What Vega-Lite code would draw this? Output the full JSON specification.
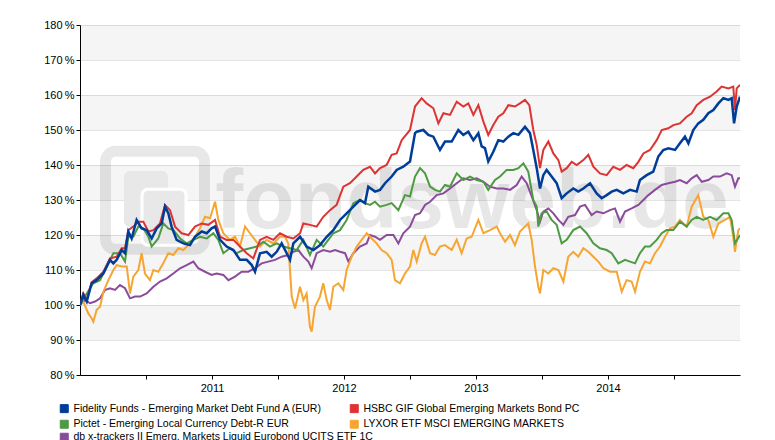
{
"$schema":"https://vega.github.io/schema/vega-lite/v6.json",
"width":660,"height":350,
"autosize":{"type":"none"},
"padding":{"left":80,"top":25,"right":35,"bottom":65},
"background":"white",
"config":{"view":{"stroke":null},"font":"Liberation Sans","axis":{"labelFont":"Liberation Sans","labelFontSize":11,"labelColor":"#000","domainColor":"#000","tickColor":"#000","tickSize":4,"title":null},"axisY":{"values":[80,90,100,110,120,130,140,150,160,170,180],"labelExpr":"datum.value + '\u2009%'","grid":true,"gridColor":"#e3e3e3","labelPadding":2,"labelOverlap":false},"legend":{"labelFont":"Liberation Sans"}},
"datasets":{
"names":[
{"k":"F","fund":"Fidelity Funds - Emerging Market Debt Fund A (EUR)"},
{"k":"H","fund":"HSBC GIF Global Emerging Markets Bond PC"},
{"k":"P","fund":"Pictet - Emerging Local Currency Debt-R EUR"},
{"k":"L","fund":"LYXOR ETF MSCI EMERGING MARKETS"},
{"k":"D","fund":"db x-trackers II Emerg. Markets Liquid Eurobond UCITS ETF 1C"}],
"bands":[{"lo":170,"hi":180},{"lo":150,"hi":160},{"lo":130,"hi":140},{"lo":110,"hi":120},{"lo":90,"hi":100}],
"series":[
{"k":"D","t":2010,"v":100},{"k":"D","t":2010.038,"v":101.4},{"k":"D","t":2010.076,"v":100.5},{"k":"D","t":2010.114,"v":101},{"k":"D","t":2010.152,"v":101.9},{"k":"D","t":2010.189,"v":104.3},{"k":"D","t":2010.227,"v":104.8},{"k":"D","t":2010.265,"v":104.3},{"k":"D","t":2010.303,"v":105.7},{"k":"D","t":2010.341,"v":104.8},{"k":"D","t":2010.379,"v":101.9},{"k":"D","t":2010.417,"v":102.4},{"k":"D","t":2010.455,"v":102.4},{"k":"D","t":2010.505,"v":103.3},{"k":"D","t":2010.556,"v":105.2},{"k":"D","t":2010.606,"v":106.7},{"k":"D","t":2010.657,"v":107.6},{"k":"D","t":2010.707,"v":109},{"k":"D","t":2010.758,"v":110.5},{"k":"D","t":2010.808,"v":111.4},{"k":"D","t":2010.859,"v":112.4},{"k":"D","t":2010.896,"v":110.5},{"k":"D","t":2010.947,"v":109.5},{"k":"D","t":2010.997,"v":108.6},{"k":"D","t":2011.035,"v":109},{"k":"D","t":2011.086,"v":108.6},{"k":"D","t":2011.124,"v":107.1},{"k":"D","t":2011.174,"v":108.1},{"k":"D","t":2011.225,"v":109.5},{"k":"D","t":2011.275,"v":109.5},{"k":"D","t":2011.326,"v":110.5},{"k":"D","t":2011.376,"v":111.9},{"k":"D","t":2011.427,"v":112.4},{"k":"D","t":2011.477,"v":112.9},{"k":"D","t":2011.528,"v":113.8},{"k":"D","t":2011.578,"v":114.3},{"k":"D","t":2011.616,"v":115.2},{"k":"D","t":2011.654,"v":115.7},{"k":"D","t":2011.692,"v":113.8},{"k":"D","t":2011.73,"v":112.4},{"k":"D","t":2011.755,"v":110.5},{"k":"D","t":2011.793,"v":114.8},{"k":"D","t":2011.843,"v":115.7},{"k":"D","t":2011.894,"v":115.2},{"k":"D","t":2011.932,"v":115.7},{"k":"D","t":2011.97,"v":115.2},{"k":"D","t":2012.008,"v":114.8},{"k":"D","t":2012.033,"v":112.4},{"k":"D","t":2012.071,"v":114.8},{"k":"D","t":2012.121,"v":116.7},{"k":"D","t":2012.172,"v":117.6},{"k":"D","t":2012.197,"v":120},{"k":"D","t":2012.235,"v":119.5},{"k":"D","t":2012.273,"v":118.6},{"k":"D","t":2012.323,"v":120},{"k":"D","t":2012.374,"v":120},{"k":"D","t":2012.412,"v":117.6},{"k":"D","t":2012.449,"v":120.5},{"k":"D","t":2012.5,"v":122.4},
{"k":"D","t":2012.538,"v":125.7},{"k":"D","t":2012.576,"v":126.2},{"k":"D","t":2012.614,"v":128.6},{"k":"D","t":2012.652,"v":129.5},{"k":"D","t":2012.702,"v":131.4},{"k":"D","t":2012.753,"v":131.9},{"k":"D","t":2012.803,"v":133.3},{"k":"D","t":2012.854,"v":134.8},{"k":"D","t":2012.904,"v":136.2},{"k":"D","t":2012.955,"v":135.7},{"k":"D","t":2013.005,"v":136.2},{"k":"D","t":2013.056,"v":135.2},{"k":"D","t":2013.106,"v":133.8},{"k":"D","t":2013.157,"v":133.3},{"k":"D","t":2013.207,"v":133.3},{"k":"D","t":2013.258,"v":132.9},{"k":"D","t":2013.308,"v":134.3},{"k":"D","t":2013.346,"v":136.7},{"k":"D","t":2013.384,"v":134.8},{"k":"D","t":2013.422,"v":131},{"k":"D","t":2013.46,"v":127.1},{"k":"D","t":2013.485,"v":123.8},{"k":"D","t":2013.51,"v":126.7},{"k":"D","t":2013.548,"v":127.6},{"k":"D","t":2013.586,"v":126.2},{"k":"D","t":2013.624,"v":124.3},{"k":"D","t":2013.662,"v":122.9},{"k":"D","t":2013.699,"v":125.2},{"k":"D","t":2013.75,"v":125.7},{"k":"D","t":2013.788,"v":128.1},{"k":"D","t":2013.826,"v":128.6},{"k":"D","t":2013.876,"v":125.7},{"k":"D","t":2013.914,"v":126.7},{"k":"D","t":2013.965,"v":126.2},{"k":"D","t":2014.015,"v":127.1},{"k":"D","t":2014.053,"v":127.6},{"k":"D","t":2014.091,"v":123.8},{"k":"D","t":2014.129,"v":126.7},{"k":"D","t":2014.179,"v":127.6},{"k":"D","t":2014.23,"v":128.6},{"k":"D","t":2014.268,"v":130},{"k":"D","t":2014.306,"v":131.4},{"k":"D","t":2014.356,"v":132.9},{"k":"D","t":2014.407,"v":134.3},{"k":"D","t":2014.457,"v":134.8},{"k":"D","t":2014.508,"v":135.2},{"k":"D","t":2014.545,"v":135.7},{"k":"D","t":2014.596,"v":134.8},{"k":"D","t":2014.634,"v":136.2},{"k":"D","t":2014.672,"v":137.1},{"k":"D","t":2014.71,"v":135.2},{"k":"D","t":2014.76,"v":135.7},{"k":"D","t":2014.798,"v":136.7},{"k":"D","t":2014.848,"v":136.7},{"k":"D","t":2014.899,"v":137.6},{"k":"D","t":2014.937,"v":137.1},{"k":"D","t":2014.962,"v":133.8},{"k":"D","t":2014.987,"v":136.2},{"k":"D","t":2015,"v":136.2},
{"k":"L","t":2010,"v":100},{"k":"L","t":2010.025,"v":101},{"k":"L","t":2010.063,"v":97.6},{"k":"L","t":2010.088,"v":96.2},{"k":"L","t":2010.101,"v":95.2},{"k":"L","t":2010.126,"v":98.6},{"k":"L","t":2010.152,"v":99.5},{"k":"L","t":2010.177,"v":103.8},{"k":"L","t":2010.215,"v":107.1},{"k":"L","t":2010.253,"v":110},{"k":"L","t":2010.278,"v":111.4},{"k":"L","t":2010.316,"v":111},{"k":"L","t":2010.354,"v":111},{"k":"L","t":2010.379,"v":103.3},{"k":"L","t":2010.404,"v":108.1},{"k":"L","t":2010.442,"v":110},{"k":"L","t":2010.467,"v":114.8},{"k":"L","t":2010.492,"v":109},{"k":"L","t":2010.53,"v":107.1},{"k":"L","t":2010.556,"v":110},{"k":"L","t":2010.593,"v":109.5},{"k":"L","t":2010.631,"v":111.9},{"k":"L","t":2010.669,"v":114.8},{"k":"L","t":2010.707,"v":114.3},{"k":"L","t":2010.745,"v":116.2},{"k":"L","t":2010.783,"v":115.7},{"k":"L","t":2010.821,"v":117.1},{"k":"L","t":2010.871,"v":119.5},{"k":"L","t":2010.909,"v":121.9},{"k":"L","t":2010.947,"v":125.2},{"k":"L","t":2010.985,"v":124.8},{"k":"L","t":2011.023,"v":129.5},{"k":"L","t":2011.048,"v":124.3},{"k":"L","t":2011.086,"v":120.5},{"k":"L","t":2011.136,"v":118.6},{"k":"L","t":2011.174,"v":119.5},{"k":"L","t":2011.212,"v":116.7},{"k":"L","t":2011.25,"v":122.4},{"k":"L","t":2011.288,"v":120.5},{"k":"L","t":2011.326,"v":118.6},{"k":"L","t":2011.364,"v":116.7},{"k":"L","t":2011.414,"v":118.6},{"k":"L","t":2011.465,"v":117.6},{"k":"L","t":2011.515,"v":119.5},{"k":"L","t":2011.553,"v":119.5},{"k":"L","t":2011.578,"v":117.6},{"k":"L","t":2011.604,"v":102.4},{"k":"L","t":2011.629,"v":99},{"k":"L","t":2011.667,"v":105.2},{"k":"L","t":2011.692,"v":101.4},{"k":"L","t":2011.717,"v":103.3},{"k":"L","t":2011.742,"v":93.8},{"k":"L","t":2011.755,"v":92.4},{"k":"L","t":2011.78,"v":99.5},{"k":"L","t":2011.818,"v":102.4},{"k":"L","t":2011.843,"v":106.2},{"k":"L","t":2011.869,"v":101.4},{"k":"L","t":2011.894,"v":98.6},{"k":"L","t":2011.919,"v":105.2},{"k":"L","t":2011.957,"v":106.2},{"k":"L","t":2011.995,"v":104.3},{"k":"L","t":2012.02,"v":110},{"k":"L","t":2012.058,"v":113.8},{"k":"L","t":2012.096,"v":116.7},{"k":"L","t":2012.134,"v":118.6},{"k":"L","t":2012.172,"v":120.5},{"k":"L","t":2012.21,"v":119},{"k":"L","t":2012.247,"v":117.6},{"k":"L","t":2012.285,"v":115.7},{"k":"L","t":2012.323,"v":114.8},{"k":"L","t":2012.361,"v":112.9},{"k":"L","t":2012.386,"v":107.1},{"k":"L","t":2012.424,"v":106.2},{"k":"L","t":2012.462,"v":109},{"k":"L","t":2012.5,"v":111},
{"k":"L","t":2012.525,"v":115.7},{"k":"L","t":2012.551,"v":112.4},{"k":"L","t":2012.588,"v":117.6},{"k":"L","t":2012.614,"v":119.5},{"k":"L","t":2012.652,"v":114.8},{"k":"L","t":2012.689,"v":114.3},{"k":"L","t":2012.727,"v":116.7},{"k":"L","t":2012.765,"v":117.1},{"k":"L","t":2012.816,"v":115.7},{"k":"L","t":2012.854,"v":118.6},{"k":"L","t":2012.891,"v":114.8},{"k":"L","t":2012.929,"v":119},{"k":"L","t":2012.967,"v":119.5},{"k":"L","t":2013.018,"v":124.3},{"k":"L","t":2013.056,"v":120.5},{"k":"L","t":2013.106,"v":121.4},{"k":"L","t":2013.157,"v":122.4},{"k":"L","t":2013.182,"v":120.5},{"k":"L","t":2013.22,"v":118.1},{"k":"L","t":2013.258,"v":120},{"k":"L","t":2013.295,"v":117.1},{"k":"L","t":2013.333,"v":121},{"k":"L","t":2013.371,"v":122.4},{"k":"L","t":2013.396,"v":123.3},{"k":"L","t":2013.422,"v":118.6},{"k":"L","t":2013.447,"v":111},{"k":"L","t":2013.472,"v":105.2},{"k":"L","t":2013.485,"v":103.3},{"k":"L","t":2013.51,"v":110},{"k":"L","t":2013.548,"v":109},{"k":"L","t":2013.586,"v":110.5},{"k":"L","t":2013.624,"v":110},{"k":"L","t":2013.662,"v":106.7},{"k":"L","t":2013.699,"v":113.8},{"k":"L","t":2013.737,"v":115.2},{"k":"L","t":2013.775,"v":113.8},{"k":"L","t":2013.813,"v":116.2},{"k":"L","t":2013.851,"v":115.2},{"k":"L","t":2013.889,"v":113.8},{"k":"L","t":2013.927,"v":112.4},{"k":"L","t":2013.965,"v":110.5},{"k":"L","t":2014.015,"v":109.5},{"k":"L","t":2014.066,"v":109.5},{"k":"L","t":2014.104,"v":103.8},{"k":"L","t":2014.141,"v":107.1},{"k":"L","t":2014.179,"v":106.7},{"k":"L","t":2014.205,"v":103.8},{"k":"L","t":2014.242,"v":109.5},{"k":"L","t":2014.28,"v":112.4},{"k":"L","t":2014.318,"v":111.9},{"k":"L","t":2014.356,"v":114.8},{"k":"L","t":2014.394,"v":116.7},{"k":"L","t":2014.432,"v":119.5},{"k":"L","t":2014.47,"v":121.9},{"k":"L","t":2014.508,"v":122.4},{"k":"L","t":2014.545,"v":124.3},{"k":"L","t":2014.596,"v":122.4},{"k":"L","t":2014.634,"v":128.1},{"k":"L","t":2014.684,"v":131.4},{"k":"L","t":2014.722,"v":125.2},{"k":"L","t":2014.76,"v":124.3},{"k":"L","t":2014.798,"v":119.5},{"k":"L","t":2014.836,"v":123.3},{"k":"L","t":2014.886,"v":124.3},{"k":"L","t":2014.924,"v":125.2},{"k":"L","t":2014.949,"v":119.5},{"k":"L","t":2014.962,"v":115.2},{"k":"L","t":2014.987,"v":121.4},{"k":"L","t":2015,"v":121.9},
{"k":"P","t":2010,"v":100},{"k":"P","t":2010.051,"v":103.3},{"k":"P","t":2010.101,"v":106.2},{"k":"P","t":2010.152,"v":107.1},{"k":"P","t":2010.202,"v":111},{"k":"P","t":2010.253,"v":114.8},{"k":"P","t":2010.303,"v":114.8},{"k":"P","t":2010.341,"v":112.4},{"k":"P","t":2010.366,"v":119.5},{"k":"P","t":2010.404,"v":119.5},{"k":"P","t":2010.442,"v":122.4},{"k":"P","t":2010.48,"v":121.9},{"k":"P","t":2010.518,"v":119.5},{"k":"P","t":2010.543,"v":116.7},{"k":"P","t":2010.593,"v":119},{"k":"P","t":2010.631,"v":123.3},{"k":"P","t":2010.669,"v":121.9},{"k":"P","t":2010.707,"v":121.4},{"k":"P","t":2010.758,"v":119},{"k":"P","t":2010.808,"v":117.6},{"k":"P","t":2010.859,"v":118.6},{"k":"P","t":2010.909,"v":119.5},{"k":"P","t":2010.96,"v":119},{"k":"P","t":2011.01,"v":120.5},{"k":"P","t":2011.048,"v":118.6},{"k":"P","t":2011.086,"v":114.8},{"k":"P","t":2011.136,"v":116.2},{"k":"P","t":2011.187,"v":114.8},{"k":"P","t":2011.237,"v":115.7},{"k":"P","t":2011.288,"v":116.2},{"k":"P","t":2011.338,"v":116.7},{"k":"P","t":2011.389,"v":118.1},{"k":"P","t":2011.439,"v":116.7},{"k":"P","t":2011.49,"v":117.6},{"k":"P","t":2011.54,"v":116.7},{"k":"P","t":2011.591,"v":116.2},{"k":"P","t":2011.641,"v":115.7},{"k":"P","t":2011.692,"v":118.6},{"k":"P","t":2011.742,"v":114.3},{"k":"P","t":2011.793,"v":118.6},{"k":"P","t":2011.843,"v":116.7},{"k":"P","t":2011.881,"v":118.6},{"k":"P","t":2011.919,"v":120.5},{"k":"P","t":2011.97,"v":121.4},{"k":"P","t":2012.02,"v":124.3},{"k":"P","t":2012.071,"v":129.1},{"k":"P","t":2012.121,"v":130},{"k":"P","t":2012.159,"v":129.1},{"k":"P","t":2012.197,"v":128.6},{"k":"P","t":2012.235,"v":129.5},{"k":"P","t":2012.273,"v":128.1},{"k":"P","t":2012.323,"v":128.6},{"k":"P","t":2012.361,"v":129.1},{"k":"P","t":2012.412,"v":127.1},{"k":"P","t":2012.462,"v":131.4},{"k":"P","t":2012.5,"v":131},
{"k":"P","t":2012.538,"v":136.7},{"k":"P","t":2012.576,"v":139.1},{"k":"P","t":2012.614,"v":137.6},{"k":"P","t":2012.652,"v":133.8},{"k":"P","t":2012.689,"v":132.9},{"k":"P","t":2012.727,"v":132.4},{"k":"P","t":2012.765,"v":134.3},{"k":"P","t":2012.803,"v":133.8},{"k":"P","t":2012.854,"v":137.6},{"k":"P","t":2012.904,"v":135.7},{"k":"P","t":2012.955,"v":136.7},{"k":"P","t":2013.005,"v":135.7},{"k":"P","t":2013.056,"v":135.2},{"k":"P","t":2013.093,"v":132.9},{"k":"P","t":2013.144,"v":135.7},{"k":"P","t":2013.182,"v":136.7},{"k":"P","t":2013.232,"v":138.6},{"k":"P","t":2013.283,"v":138.6},{"k":"P","t":2013.321,"v":139.1},{"k":"P","t":2013.359,"v":140.5},{"k":"P","t":2013.396,"v":138.1},{"k":"P","t":2013.434,"v":130},{"k":"P","t":2013.46,"v":128.1},{"k":"P","t":2013.472,"v":122.4},{"k":"P","t":2013.497,"v":126.2},{"k":"P","t":2013.535,"v":126.7},{"k":"P","t":2013.573,"v":124.3},{"k":"P","t":2013.611,"v":122.9},{"k":"P","t":2013.649,"v":117.6},{"k":"P","t":2013.687,"v":118.6},{"k":"P","t":2013.737,"v":121.4},{"k":"P","t":2013.788,"v":122.4},{"k":"P","t":2013.838,"v":120.5},{"k":"P","t":2013.889,"v":117.6},{"k":"P","t":2013.939,"v":116.2},{"k":"P","t":2013.99,"v":115.7},{"k":"P","t":2014.028,"v":114.8},{"k":"P","t":2014.078,"v":111.9},{"k":"P","t":2014.129,"v":112.9},{"k":"P","t":2014.167,"v":112.4},{"k":"P","t":2014.205,"v":111.9},{"k":"P","t":2014.242,"v":114.8},{"k":"P","t":2014.28,"v":116.7},{"k":"P","t":2014.318,"v":116.7},{"k":"P","t":2014.369,"v":118.6},{"k":"P","t":2014.407,"v":120.5},{"k":"P","t":2014.444,"v":121.4},{"k":"P","t":2014.495,"v":121.4},{"k":"P","t":2014.545,"v":123.8},{"k":"P","t":2014.596,"v":122.4},{"k":"P","t":2014.634,"v":124.3},{"k":"P","t":2014.672,"v":125.2},{"k":"P","t":2014.722,"v":124.3},{"k":"P","t":2014.773,"v":125.2},{"k":"P","t":2014.823,"v":124.3},{"k":"P","t":2014.874,"v":126.2},{"k":"P","t":2014.912,"v":126.2},{"k":"P","t":2014.937,"v":124.3},{"k":"P","t":2014.962,"v":117.6},{"k":"P","t":2015,"v":120},
{"k":"H","t":2010,"v":100},{"k":"H","t":2010.025,"v":103.3},{"k":"H","t":2010.051,"v":101.5},{"k":"H","t":2010.088,"v":106.5},{"k":"H","t":2010.126,"v":107.6},{"k":"H","t":2010.177,"v":109.5},{"k":"H","t":2010.227,"v":113.3},{"k":"H","t":2010.278,"v":113.8},{"k":"H","t":2010.316,"v":116.2},{"k":"H","t":2010.341,"v":116.2},{"k":"H","t":2010.366,"v":121.4},{"k":"H","t":2010.404,"v":122.4},{"k":"H","t":2010.442,"v":123.8},{"k":"H","t":2010.48,"v":123.8},{"k":"H","t":2010.518,"v":121},{"k":"H","t":2010.556,"v":121.4},{"k":"H","t":2010.606,"v":123.3},{"k":"H","t":2010.644,"v":128.6},{"k":"H","t":2010.682,"v":127.1},{"k":"H","t":2010.72,"v":122.4},{"k":"H","t":2010.77,"v":120.5},{"k":"H","t":2010.821,"v":120},{"k":"H","t":2010.871,"v":122.4},{"k":"H","t":2010.922,"v":123.3},{"k":"H","t":2010.972,"v":122.9},{"k":"H","t":2011.023,"v":124.3},{"k":"H","t":2011.061,"v":119.5},{"k":"H","t":2011.111,"v":118.6},{"k":"H","t":2011.162,"v":118.6},{"k":"H","t":2011.212,"v":116.7},{"k":"H","t":2011.263,"v":114.8},{"k":"H","t":2011.313,"v":113.3},{"k":"H","t":2011.364,"v":118.6},{"k":"H","t":2011.414,"v":119.5},{"k":"H","t":2011.465,"v":118.6},{"k":"H","t":2011.515,"v":120.5},{"k":"H","t":2011.566,"v":119.5},{"k":"H","t":2011.616,"v":119},{"k":"H","t":2011.667,"v":120.5},{"k":"H","t":2011.692,"v":123.3},{"k":"H","t":2011.742,"v":122.9},{"k":"H","t":2011.793,"v":122.4},{"k":"H","t":2011.843,"v":125.2},{"k":"H","t":2011.894,"v":127.1},{"k":"H","t":2011.944,"v":128.6},{"k":"H","t":2011.995,"v":133.8},{"k":"H","t":2012.045,"v":134.8},{"k":"H","t":2012.096,"v":136.7},{"k":"H","t":2012.146,"v":138.6},{"k":"H","t":2012.197,"v":139.5},{"k":"H","t":2012.235,"v":137.6},{"k":"H","t":2012.273,"v":139.1},{"k":"H","t":2012.323,"v":140},{"k":"H","t":2012.361,"v":142.9},{"k":"H","t":2012.399,"v":143.3},{"k":"H","t":2012.437,"v":147.1},{"k":"H","t":2012.5,"v":150},
{"k":"H","t":2012.538,"v":156.7},{"k":"H","t":2012.588,"v":159.1},{"k":"H","t":2012.626,"v":157.6},{"k":"H","t":2012.677,"v":156.2},{"k":"H","t":2012.715,"v":151.9},{"k":"H","t":2012.753,"v":154.8},{"k":"H","t":2012.803,"v":154.3},{"k":"H","t":2012.854,"v":158.1},{"k":"H","t":2012.904,"v":156.7},{"k":"H","t":2012.942,"v":157.6},{"k":"H","t":2012.98,"v":154.3},{"k":"H","t":2013.018,"v":157.1},{"k":"H","t":2013.056,"v":152.4},{"k":"H","t":2013.093,"v":148.6},{"k":"H","t":2013.131,"v":151.4},{"k":"H","t":2013.169,"v":153.8},{"k":"H","t":2013.207,"v":154.8},{"k":"H","t":2013.245,"v":157.1},{"k":"H","t":2013.295,"v":156.7},{"k":"H","t":2013.333,"v":157.6},{"k":"H","t":2013.371,"v":158.6},{"k":"H","t":2013.404,"v":157.1},{"k":"H","t":2013.434,"v":150},{"k":"H","t":2013.46,"v":145.7},{"k":"H","t":2013.485,"v":139.1},{"k":"H","t":2013.51,"v":144.3},{"k":"H","t":2013.548,"v":146.7},{"k":"H","t":2013.586,"v":143.3},{"k":"H","t":2013.624,"v":141.4},{"k":"H","t":2013.649,"v":138.1},{"k":"H","t":2013.687,"v":139.1},{"k":"H","t":2013.725,"v":140.9},{"k":"H","t":2013.763,"v":140},{"k":"H","t":2013.813,"v":141.4},{"k":"H","t":2013.851,"v":142.9},{"k":"H","t":2013.889,"v":139.5},{"k":"H","t":2013.939,"v":137.6},{"k":"H","t":2013.99,"v":137.1},{"k":"H","t":2014.04,"v":139.5},{"k":"H","t":2014.091,"v":138.6},{"k":"H","t":2014.141,"v":140},{"k":"H","t":2014.192,"v":139.1},{"k":"H","t":2014.23,"v":140.9},{"k":"H","t":2014.268,"v":143.3},{"k":"H","t":2014.318,"v":144.3},{"k":"H","t":2014.369,"v":147.1},{"k":"H","t":2014.407,"v":150},{"k":"H","t":2014.457,"v":150.5},{"k":"H","t":2014.495,"v":151.4},{"k":"H","t":2014.545,"v":151.9},{"k":"H","t":2014.596,"v":153.8},{"k":"H","t":2014.634,"v":154.8},{"k":"H","t":2014.672,"v":157.1},{"k":"H","t":2014.722,"v":158.6},{"k":"H","t":2014.773,"v":159.5},{"k":"H","t":2014.823,"v":161},{"k":"H","t":2014.861,"v":162.4},{"k":"H","t":2014.912,"v":161.9},{"k":"H","t":2014.949,"v":162.4},{"k":"H","t":2014.962,"v":155.7},{"k":"H","t":2014.975,"v":161.9},{"k":"H","t":2015,"v":162.9},
{"k":"F","t":2010,"v":100},{"k":"F","t":2010.025,"v":102.9},{"k":"F","t":2010.051,"v":101},{"k":"F","t":2010.088,"v":106.2},{"k":"F","t":2010.126,"v":107.1},{"k":"F","t":2010.177,"v":109},{"k":"F","t":2010.227,"v":112.9},{"k":"F","t":2010.253,"v":111.9},{"k":"F","t":2010.278,"v":112.9},{"k":"F","t":2010.316,"v":115.7},{"k":"F","t":2010.341,"v":114.8},{"k":"F","t":2010.366,"v":121},{"k":"F","t":2010.391,"v":119},{"k":"F","t":2010.429,"v":124.3},{"k":"F","t":2010.467,"v":121.9},{"k":"F","t":2010.505,"v":121.4},{"k":"F","t":2010.543,"v":119},{"k":"F","t":2010.581,"v":121.9},{"k":"F","t":2010.619,"v":123.3},{"k":"F","t":2010.644,"v":128.1},{"k":"F","t":2010.669,"v":126.2},{"k":"F","t":2010.694,"v":122.4},{"k":"F","t":2010.732,"v":118.6},{"k":"F","t":2010.783,"v":117.6},{"k":"F","t":2010.833,"v":117.1},{"k":"F","t":2010.871,"v":119.5},{"k":"F","t":2010.922,"v":121},{"k":"F","t":2010.96,"v":120.5},{"k":"F","t":2010.997,"v":121.9},{"k":"F","t":2011.023,"v":122.4},{"k":"F","t":2011.061,"v":118.6},{"k":"F","t":2011.111,"v":116.7},{"k":"F","t":2011.162,"v":115.7},{"k":"F","t":2011.212,"v":112.9},{"k":"F","t":2011.263,"v":112.9},{"k":"F","t":2011.301,"v":111.4},{"k":"F","t":2011.326,"v":109.5},{"k":"F","t":2011.364,"v":114.8},{"k":"F","t":2011.414,"v":115.2},{"k":"F","t":2011.452,"v":113.8},{"k":"F","t":2011.49,"v":115.2},{"k":"F","t":2011.528,"v":117.6},{"k":"F","t":2011.566,"v":114.8},{"k":"F","t":2011.591,"v":112.9},{"k":"F","t":2011.616,"v":117.6},{"k":"F","t":2011.667,"v":119.5},{"k":"F","t":2011.717,"v":116.7},{"k":"F","t":2011.768,"v":115.7},{"k":"F","t":2011.818,"v":117.1},{"k":"F","t":2011.869,"v":119.5},{"k":"F","t":2011.919,"v":121.4},{"k":"F","t":2011.97,"v":124.3},{"k":"F","t":2012.02,"v":126.2},{"k":"F","t":2012.071,"v":128.1},{"k":"F","t":2012.121,"v":130},{"k":"F","t":2012.159,"v":129.1},{"k":"F","t":2012.184,"v":133.8},{"k":"F","t":2012.235,"v":132.4},{"k":"F","t":2012.273,"v":132.9},{"k":"F","t":2012.311,"v":134.8},{"k":"F","t":2012.361,"v":136.7},{"k":"F","t":2012.399,"v":138.6},{"k":"F","t":2012.449,"v":139.5},{"k":"F","t":2012.5,"v":141},
{"k":"F","t":2012.538,"v":149.1},{"k":"F","t":2012.551,"v":149.5},{"k":"F","t":2012.601,"v":150},{"k":"F","t":2012.639,"v":148.6},{"k":"F","t":2012.677,"v":148.1},{"k":"F","t":2012.727,"v":144.3},{"k":"F","t":2012.765,"v":146.7},{"k":"F","t":2012.816,"v":146.7},{"k":"F","t":2012.866,"v":150},{"k":"F","t":2012.904,"v":148.6},{"k":"F","t":2012.942,"v":149.5},{"k":"F","t":2012.98,"v":147.1},{"k":"F","t":2013.018,"v":149.1},{"k":"F","t":2013.043,"v":145.3},{"k":"F","t":2013.068,"v":144.8},{"k":"F","t":2013.093,"v":141},{"k":"F","t":2013.131,"v":143.8},{"k":"F","t":2013.169,"v":147.1},{"k":"F","t":2013.207,"v":146.7},{"k":"F","t":2013.245,"v":148.1},{"k":"F","t":2013.283,"v":149.1},{"k":"F","t":2013.321,"v":148.6},{"k":"F","t":2013.371,"v":150.9},{"k":"F","t":2013.409,"v":149.1},{"k":"F","t":2013.434,"v":144.3},{"k":"F","t":2013.46,"v":139.1},{"k":"F","t":2013.485,"v":133.3},{"k":"F","t":2013.51,"v":137.1},{"k":"F","t":2013.535,"v":138.6},{"k":"F","t":2013.573,"v":136.7},{"k":"F","t":2013.611,"v":134.8},{"k":"F","t":2013.649,"v":130.5},{"k":"F","t":2013.687,"v":131.9},{"k":"F","t":2013.737,"v":133.3},{"k":"F","t":2013.775,"v":132.4},{"k":"F","t":2013.813,"v":133.3},{"k":"F","t":2013.864,"v":134.8},{"k":"F","t":2013.914,"v":131.9},{"k":"F","t":2013.952,"v":130.5},{"k":"F","t":2013.99,"v":131.4},{"k":"F","t":2014.028,"v":132.4},{"k":"F","t":2014.066,"v":132.9},{"k":"F","t":2014.116,"v":131.9},{"k":"F","t":2014.167,"v":132.9},{"k":"F","t":2014.217,"v":132.4},{"k":"F","t":2014.242,"v":135.7},{"k":"F","t":2014.293,"v":137.1},{"k":"F","t":2014.343,"v":138.1},{"k":"F","t":2014.381,"v":142.4},{"k":"F","t":2014.419,"v":144.3},{"k":"F","t":2014.457,"v":144.8},{"k":"F","t":2014.508,"v":144.3},{"k":"F","t":2014.545,"v":146.2},{"k":"F","t":2014.583,"v":148.1},{"k":"F","t":2014.609,"v":146.2},{"k":"F","t":2014.646,"v":150},{"k":"F","t":2014.684,"v":151.9},{"k":"F","t":2014.722,"v":152.9},{"k":"F","t":2014.76,"v":154.8},{"k":"F","t":2014.798,"v":155.7},{"k":"F","t":2014.836,"v":157.6},{"k":"F","t":2014.874,"v":159.1},{"k":"F","t":2014.912,"v":158.6},{"k":"F","t":2014.937,"v":159.1},{"k":"F","t":2014.955,"v":151.9},{"k":"F","t":2014.975,"v":156.7},{"k":"F","t":2015,"v":159.5}
]},
"layer":[
{"data":{"name":"bands"},"mark":{"type":"rect","fill":"#000","opacity":0.04},
 "encoding":{"y":{"field":"lo","type":"quantitative","scale":{"domain":[80,180],"nice":false,"zero":false},"title":null},
  "y2":{"field":"hi"}}},
{"data":{"values":[{}]},"mark":{"type":"rect","filled":false,"stroke":"#000","strokeOpacity":0.09,"strokeWidth":11,"cornerRadius":10},
 "encoding":{"x":{"datum":2010.193,"type":"quantitative"},"x2":{"datum":2010.943},"y":{"datum":143.9,"type":"quantitative"},"y2":{"datum":115.9}}},
{"data":{"values":[{}]},"mark":{"type":"rect","fill":"#e8e8e8","cornerRadius":6},
 "encoding":{"x":{"datum":2010.333,"type":"quantitative"},"x2":{"datum":2010.667},"y":{"datum":138.3,"type":"quantitative"},"y2":{"datum":122.3}}},
{"data":{"values":[{}]},"mark":{"type":"rect","fill":"#e8e8e8","stroke":"#ffffff","strokeWidth":3,"cornerRadius":6},
 "encoding":{"x":{"datum":2010.47,"type":"quantitative"},"x2":{"datum":2010.803},"y":{"datum":133.1,"type":"quantitative"},"y2":{"datum":117.1}}},
{"data":{"values":[{}]},"mark":{"type":"text","text":"fondsweb.de","font":"Liberation Sans","fontWeight":"bold","fontSize":84,"fill":"#000","opacity":0.09,"align":"center","baseline":"alphabetic"},
 "encoding":{"x":{"datum":2012.97,"type":"quantitative"},"y":{"datum":122,"type":"quantitative"}}},
{"data":{"name":"series"},
 "transform":[{"lookup":"k","from":{"data":{"name":"names"},"key":"k","fields":["fund"]}},{"filter":"datum.k === 'D'"}],
 "mark":{"type":"line","strokeWidth":2,"clip":true},
 "encoding":{
  "x":{"field":"t","type":"quantitative","scale":{"domain":[2010,2015],"nice":false,"zero":false},
   "axis":{"title":null,"values":[2010.5,2011,2011.5,2012,2012.5,2013,2013.5,2014,2014.5],"labelExpr":"datum.value % 1 === 0 ? format(datum.value, 'd') : ''","grid":false,"labelPadding":3,"labelOverlap":false,"labelFlush":false}},
  "y":{"field":"v","type":"quantitative","title":null},
  "stroke":{"field":"fund","type":"nominal",
   "scale":{"domain":["db x-trackers II Emerg. Markets Liquid Eurobond UCITS ETF 1C"],"range":["#8b4b9b"]},
   "legend":{"title":null,"orient":"none","legendX":-21,"legendY":407,"direction":"horizontal","symbolType":"square","symbolSize":64,"symbolStrokeWidth":1,"labelFontSize":10.5,"labelColor":"#000","labelLimit":500,"labelOffset":4,"padding":0,
     "encode":{"symbols":{"update":{"fill":{"scale":"stroke","field":"value"},"stroke":{"value":"#333333"},"opacity":{"value":1}}}}}}}},
{"data":{"name":"series"},
 "transform":[{"lookup":"k","from":{"data":{"name":"names"},"key":"k","fields":["fund"]}},{"filter":"datum.k !== 'F' && datum.k !== 'D'"}],
 "mark":{"type":"line","strokeWidth":2,"clip":true},
 "encoding":{
  "x":{"field":"t","type":"quantitative"},
  "y":{"field":"v","type":"quantitative","title":null},
  "color":{"field":"fund","type":"nominal",
   "scale":{"domain":["Fidelity Funds - Emerging Market Debt Fund A (EUR)","HSBC GIF Global Emerging Markets Bond PC","Pictet - Emerging Local Currency Debt-R EUR","LYXOR ETF MSCI EMERGING MARKETS"],
     "range":["#003d99","#dd3333","#4e9a42","#f6a532"]},
   "legend":{"title":null,"orient":"none","legendX":-21,"legendY":378,"direction":"horizontal","columns":2,"columnPadding":25,"rowPadding":3,"symbolType":"square","symbolSize":64,"symbolStrokeWidth":1,"labelFontSize":10.5,"labelColor":"#000","labelLimit":500,"labelOffset":4,"padding":0,
     "encode":{"symbols":{"update":{"fill":{"scale":"color","field":"value"},"stroke":{"value":"#333333"},"opacity":{"value":1}}}}}}}},
{"data":{"name":"series"},
 "transform":[{"lookup":"k","from":{"data":{"name":"names"},"key":"k","fields":["fund"]}},{"filter":"datum.k === 'F'"}],
 "mark":{"type":"line","strokeWidth":2.5,"clip":true},
 "encoding":{
  "x":{"field":"t","type":"quantitative"},
  "y":{"field":"v","type":"quantitative","title":null},
  "color":{"field":"fund","type":"nominal"}}}
]
}
